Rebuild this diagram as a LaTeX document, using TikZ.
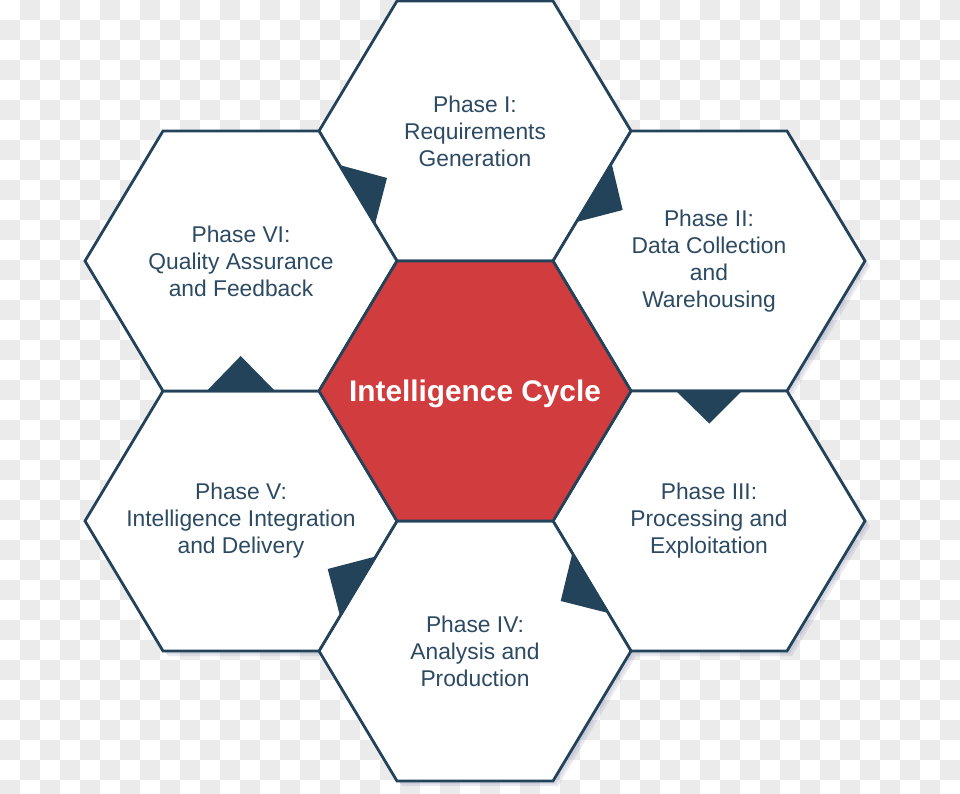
\documentclass[tikz,border=0pt]{standalone}
\usepackage{fontspec}
\setmainfont{Liberation Sans}
\definecolor{edgeblue}{HTML}{23435B}
\definecolor{txtblue}{HTML}{2C4A62}
\definecolor{cyclered}{HTML}{D13C3F}
\definecolor{checkgray}{HTML}{EBEBEB}
\definecolor{shadowcol}{HTML}{8C8CB0}
\newcommand\hexat[2]{(#1-156,#2) -- (#1-78,#2-130) -- (#1+78,#2-130) -- (#1+156,#2) -- (#1+78,#2+130) -- (#1-78,#2+130) -- cycle}
\tikzset{
  hexcell/.style={draw=edgeblue, line width=2.8pt, fill=white, line join=miter},
  hexcore/.style={draw=edgeblue, line width=2.8pt, fill=cyclered, line join=miter},
  hexshadow/.style={fill=shadowcol, fill opacity=0.18, draw=none},
  tab/.style={fill=edgeblue, draw=none},
  phasetext/.style={text=txtblue, align=center, font=\fontsize{22.8}{27}\selectfont},
  coretext/.style={text=white, align=center, font=\bfseries\fontsize{29.8}{34}\selectfont}
}
\begin{document}
\begin{tikzpicture}[x=1pt,y=-1pt]
\useasboundingbox (0,0) rectangle (960,794);
\clip (0,0) rectangle (960,794);
% checkerboard background
\fill[white] (0,0) rectangle (960,794);
\foreach \j in {0,...,39}{
  \pgfmathtruncatemacro\st{1-mod(\j,2)}
  \pgfmathtruncatemacro\nx{\st+2}
  \foreach \i in {\st,\nx,...,47}{
    \fill[checkgray] (\i*20,\j*20) rectangle (\i*20+20,\j*20+20);
  }
}
% shadows
\foreach \cx/\cy in {475/131,709/261,709/521,475/651,241/521,241/261,475/391}{
  \fill[hexshadow] \hexat{\cx+3}{\cy+3};
  \fill[hexshadow] \hexat{\cx+5}{\cy+5};
}
% outer hexagons
\draw[hexcell] \hexat{475}{131};
\draw[hexcell] \hexat{709}{261};
\draw[hexcell] \hexat{709}{521};
\draw[hexcell] \hexat{475}{651};
\draw[hexcell] \hexat{241}{521};
\draw[hexcell] \hexat{241}{261};
% centre hexagon
\draw[hexcore] \hexat{475}{391};
% direction tabs
\fill[tab] (339.5,165) -- (387,178) -- (375,224) -- cycle;
\fill[tab] (611.5,163) -- (622.7,210) -- (576.5,222) -- cycle;
\fill[tab] (675,390) -- (743,390) -- (709.3,423.5) -- cycle;
\fill[tab] (572.4,553) -- (560.7,601) -- (608.3,613) -- cycle;
\fill[tab] (375.6,556.5) -- (327.7,569) -- (340,616) -- cycle;
\fill[tab] (206.7,391) -- (275,391) -- (240.7,356) -- cycle;
% texts
\node[coretext] (core) at (475,394) {Intelligence Cycle};
\node[phasetext] (p1) at (475,131) {Phase I:\\Requirements\\Generation};
\node[phasetext] (p2) at (709,261) {Phase II:\\Data Collection\\and\\Warehousing};
\node[phasetext] (p3) at (709,521) {Phase III:\\Processing and\\Exploitation};
\node[phasetext] (p4) at (475,651) {Phase IV:\\Analysis and\\Production};
\node[phasetext] (p5) at (241,521) {Phase V:\\Intelligence Integration\\and Delivery};
\node[phasetext] (p6) at (241,261) {Phase VI:\\Quality Assurance\\and Feedback};
\end{tikzpicture}
\end{document}
